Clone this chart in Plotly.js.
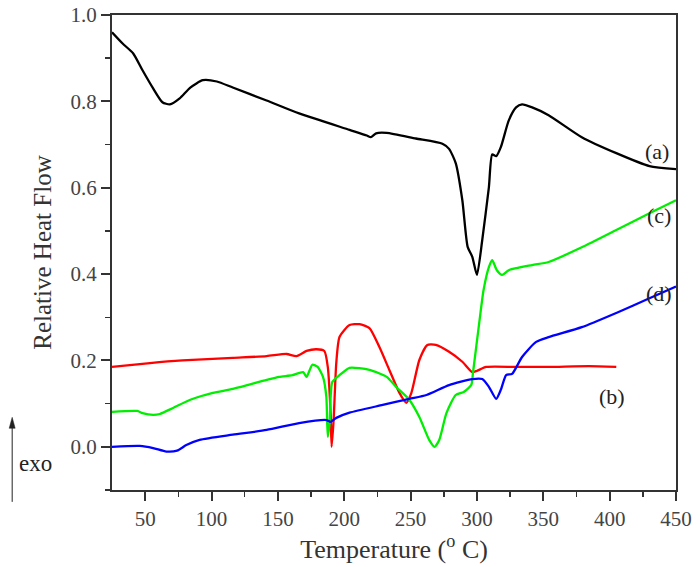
<!DOCTYPE html>
<html>
<head>
<meta charset="utf-8">
<script src="https://cdn.plot.ly/plotly-3.0.1.min.js"></script>
<style>html,body{margin:0;padding:0;background:#fff;}#chart{width:700px;height:567px;}</style>
</head>
<body>
<div id="chart"></div>
<script>
// Curve (a) - black
const xA = [25,33,41,48,56,63,68.6,76,84,93.5,104,116,141.5,166,204,217,220,224,232,254,274,279,284,289,293,296.5,300,304,309,311.5,314.5,318,324,329.5,334,341.6,354,379,405,430,450];
const yA = [0.96,0.934,0.911,0.872,0.83,0.798,0.793,0.807,0.832,0.849,0.846,0.832,0.802,0.772,0.734,0.721,0.717,0.726,0.727,0.714,0.702,0.69,0.657,0.571,0.463,0.44,0.398,0.479,0.601,0.677,0.673,0.694,0.756,0.786,0.793,0.786,0.768,0.717,0.68,0.65,0.643];
// Curve (b) - red
const xB = [25,53.6,78,116,141.5,156.6,164,171.6,179,185,187.6,189.7,190.5,192,194,196.5,204,211.5,219,226.5,234,241.6,246.8,250.6,256.6,262.6,269,279,289,296.5,300,307,329.5,354,384.5,405];
const yB = [0.185,0.194,0.2,0.206,0.21,0.215,0.21,0.222,0.226,0.222,0.185,0.079,0.0,0.062,0.194,0.255,0.282,0.284,0.275,0.231,0.178,0.125,0.102,0.125,0.201,0.236,0.236,0.22,0.197,0.173,0.176,0.185,0.185,0.185,0.187,0.185];
// Curve (c) - green
const xC = [25,44,48,56,61,71,84,101,116,141.5,151,161,169,171.6,174,176,180,184,186.5,187.6,189,191,196.5,204,219,232,239,249,256.6,264,268,271.6,277,284,290,295.7,297,302,305,309,311.5,315,319,324,341.6,354,379,405,430,450];
const yC = [0.081,0.083,0.078,0.074,0.076,0.09,0.109,0.125,0.134,0.155,0.162,0.166,0.173,0.162,0.178,0.19,0.185,0.162,0.116,0.023,0.055,0.15,0.166,0.183,0.178,0.162,0.139,0.109,0.069,0.016,0.0,0.016,0.078,0.12,0.127,0.143,0.171,0.294,0.363,0.416,0.432,0.409,0.398,0.409,0.421,0.428,0.462,0.502,0.541,0.571];
// Curve (d) - blue
const xD = [25,46,56,66,74,81,91,116,141.5,166,186.6,189.7,194,204,229,249,262,279,296.5,304,309,314.5,318,322,326.5,334,344.6,354,379,405,430,450];
const yD = [0.0,0.002,-0.003,-0.011,-0.009,0.004,0.016,0.028,0.039,0.055,0.062,0.058,0.067,0.079,0.097,0.111,0.12,0.143,0.157,0.157,0.139,0.111,0.132,0.166,0.169,0.208,0.243,0.254,0.277,0.31,0.344,0.371];

const curveLabels = ["(a)","(b)","(c)","(d)"];
const labelX = [436,402,437,437];
const labelY = [0.683,0.116,0.536,0.356];

const serif = "Liberation Serif, Times New Roman, serif";
const lw = 2.3;
const traces = [
  {x:xA,y:yA,mode:"lines",line:{color:"#000000",width:lw,shape:"spline",smoothing:0.6}},
  {x:xB,y:yB,mode:"lines",line:{color:"#ff0000",width:lw,shape:"spline",smoothing:0.6}},
  {x:xC,y:yC,mode:"lines",line:{color:"#00ee00",width:lw,shape:"spline",smoothing:0.6}},
  {x:xD,y:yD,mode:"lines",line:{color:"#0000ff",width:lw,shape:"spline",smoothing:0.6}}
];

const annotations = curveLabels.map((t,i)=>({x:labelX[i],y:labelY[i],xref:"x",yref:"y",text:t,showarrow:false,font:{family:serif,size:22,color:"#222"}}));
annotations.push({xref:"paper",yref:"paper",x:-0.168,y:0.056,text:"exo",showarrow:false,xanchor:"left",yanchor:"middle",font:{family:serif,size:23,color:"#222"}});

const shapes = [
  {type:"line",xref:"paper",yref:"paper",x0:-0.177,x1:-0.177,y0:-0.025,y1:0.135,line:{color:"#222",width:1}},
  {type:"path",xref:"paper",yref:"paper",path:"M -0.1823 0.130 L -0.177 0.153 L -0.1717 0.130 Z",fillcolor:"#222",line:{color:"#222",width:0.5}}
];

const layout = {
  width:700,height:567,
  margin:{l:112,r:24,t:15,b:77},
  paper_bgcolor:"#fff",plot_bgcolor:"#fff",
  showlegend:false,
  font:{family:serif,color:"#333",size:20},
  xaxis:{range:[25,450],tickvals:[50,100,150,200,250,300,350,400,450],ticks:"outside",ticklen:9,tickwidth:2,tickcolor:"#333",
    showline:true,linewidth:2,linecolor:"#333",mirror:true,showgrid:false,zeroline:false,
    minor:{tickvals:[75,125,175,225,275,325,375,425],ticks:"outside",ticklen:5,tickwidth:1.5,tickcolor:"#333",showgrid:false},
    tickfont:{family:serif,size:21,color:"#444"},
    title:{text:"Temperature (<sup>o</sup> C)",font:{family:serif,size:26,color:"#333"},standoff:8}},
  yaxis:{range:[-0.1,1.0],tickvals:[0,0.2,0.4,0.6,0.8,1.0],ticktext:["0.0","0.2","0.4","0.6","0.8","1.0"],ticks:"outside",ticklen:9,tickwidth:2,tickcolor:"#333",
    showline:true,linewidth:2,linecolor:"#333",mirror:true,showgrid:false,zeroline:false,
    minor:{tickvals:[-0.1,0.1,0.3,0.5,0.7,0.9],ticks:"outside",ticklen:5,tickwidth:1.5,tickcolor:"#333",showgrid:false},
    tickfont:{family:serif,size:21,color:"#444"},
    title:{text:"Relative Heat Flow",font:{family:serif,size:25,color:"#333"},standoff:12}},
  annotations:annotations,
  shapes:shapes
};
Plotly.newPlot("chart",traces,layout,{displayModeBar:false,staticPlot:true});
</script>
</body>
</html>
